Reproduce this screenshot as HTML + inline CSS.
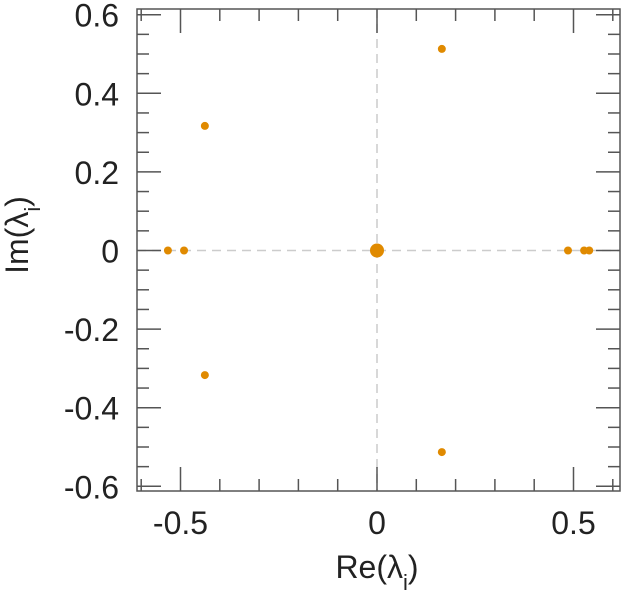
<!DOCTYPE html>
<html><head><meta charset="utf-8"><style>
body{margin:0;background:#fff}
svg text{font-family:"Liberation Sans",sans-serif;fill:#222}
</style></head><body>
<svg id="c" width="622" height="600"></svg>
<script>
const reVals=[-0.532,-0.491,-0.438,-0.438,0,0.165,0.165,0.486,0.527,0.54];
const imVals=[0,0,0.317,-0.317,0,0.513,-0.513,0,0,0];
const sizes=[4,4,4,4,7,4,4,4,4,4];
const xTicks=[-0.5,0,0.5];
const xTickLabels=["-0.5","0","0.5"];
const yTicks=[-0.6,-0.4,-0.2,0,0.2,0.4,0.6];
const yTickLabels=["-0.6","-0.4","-0.2","0","0.2","0.4","0.6"];
const L=137,R=620,T=9,B=491;
const sx=v=>377+v*393, sy=v=>250.5-v*393;
const svg=document.getElementById('c');
const NS="http://www.w3.org/2000/svg";
function mk(t,a,p){const e=document.createElementNS(NS,t);for(const k in a)e.setAttribute(k,a[k]);(p||svg).appendChild(e);return e;}
let e;
e=mk('line',{x1:L,x2:R,y1:sy(0),y2:sy(0),stroke:'#ccc','stroke-width':1.5,'stroke-dasharray':'9,6'});


e=mk('line',{x1:sx(0),x2:sx(0),y1:T,y2:B,stroke:'#ccc','stroke-width':1.5,'stroke-dasharray':'9,6'});


const tg=mk('g',{stroke:'#555','stroke-width':1.5});


for(let i=-6;i<=6;i++){const v=i/10,x=sx(v),len=(i%5===0)?24:12;
 mk('line',{x1:x,x2:x,y1:B,y2:B-len},tg);mk('line',{x1:x,x2:x,y1:T,y2:T+len},tg);}
for(let i=-12;i<=12;i++){const v=i/20,y=sy(v),len=(i%4===0)?24:12;
 if(y<T-1||y>B+1)continue;
 mk('line',{x1:L,x2:L+len,y1:y,y2:y},tg);mk('line',{x1:R,x2:R-len,y1:y,y2:y},tg);}
e=mk('rect',{x:L,y:T,width:R-L,height:B-T,fill:'none',stroke:'#555','stroke-width':1.5});


xTicks.forEach((v,i)=>{const t=mk('text',{x:sx(v),y:534,'text-anchor':'middle','font-size':32});t.textContent=xTickLabels[i];
 
 });
yTicks.forEach((v,i)=>{const t=mk('text',{x:119,y:sy(v)+12,'text-anchor':'end','font-size':32});t.textContent=yTickLabels[i];
 
 });
reVals.forEach((v,i)=>{const c=mk('circle',{cx:sx(v),cy:sy(imVals[i]),r:sizes[i],fill:'#e08a00'});
 
 });
</script>
<svg width="622" height="600" style="position:absolute;left:0;top:0">
<text x="377" y="578" text-anchor="middle" font-size="32">Re(λ<tspan font-size="22" dy="12">i</tspan><tspan dy="-12">)</tspan></text>
<text transform="translate(28,235) rotate(-90)" text-anchor="middle" font-size="32">Im(λ<tspan font-size="22" dy="12">i</tspan><tspan dy="-12">)</tspan></text>
</svg>
</body></html>
